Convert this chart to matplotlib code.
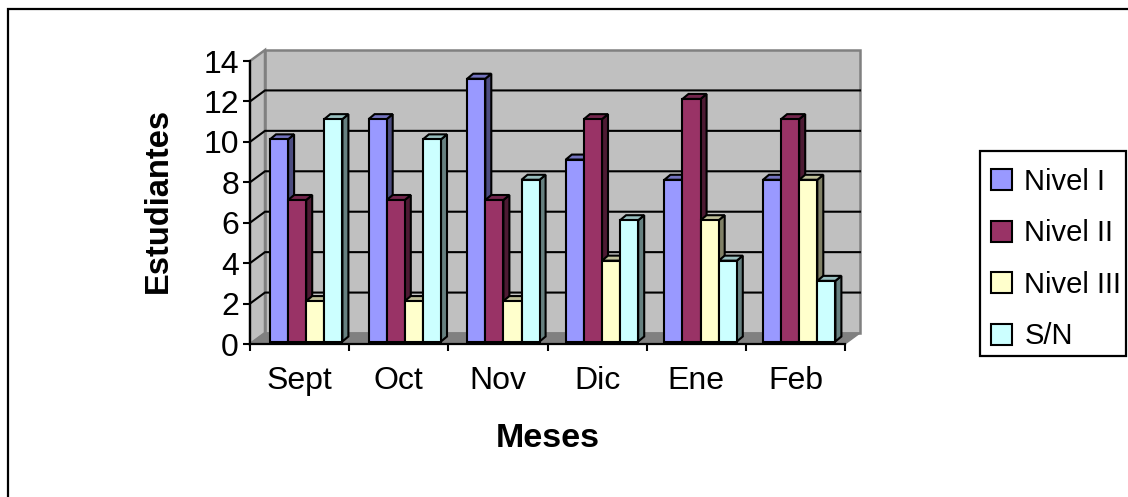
import matplotlib
matplotlib.use('Agg')
import matplotlib.pyplot as plt
from matplotlib.patches import Polygon, Rectangle

plt.rcParams['font.family'] = ['Liberation Sans', 'DejaVu Sans']

meses = ['Sept', 'Oct', 'Nov', 'Dic', 'Ene', 'Feb']
nivel_1 = [10, 11, 13, 9, 8, 8]
nivel_2 = [7, 7, 7, 11, 12, 11]
nivel_3 = [2, 2, 2, 4, 6, 8]
sin_nivel = [11, 10, 8, 6, 4, 3]
series = [nivel_1, nivel_2, nivel_3, sin_nivel]
nombres = ['Nivel I', 'Nivel II', 'Nivel III', 'S/N']
y_ticks = list(range(0, 15, 2))

front = ['#9999FF', '#993366', '#FFFFCC', '#CCFFFF']
side = ['#4C4C80', '#4D1A33', '#808066', '#668080']
top = ['#7373BF', '#73264D', '#BFBF99', '#99BFBF']

W, H = 1128, 497
fig = plt.figure(figsize=(W / 100, H / 100), dpi=100)


def px_axes(l, t, r, b):
    return fig.add_axes([l / W, 1 - b / H, (r - l) / W, (b - t) / H])


# chart area border, only top and left fall inside the image
fig.add_artist(plt.Line2D([8 / W, 8 / W, 1], [0, 1 - 9 / H, 1 - 9 / H], color='black', lw=1.6,
                          transform=fig.transFigure, solid_joinstyle='miter'))

# front plane of the fake 3d box
ax = px_axes(250, 61, 845, 344)
ax.set_xlim(0, 6)
ax.set_ylim(0, 14)
ux = 595 / 6
uy = 283 / 14
dep_x = 15 / ux
dep_y = 11 / uy


def poly(pts, **kw):
    ax.add_patch(Polygon(pts, closed=True, clip_on=False, **kw))


# walls and floor
poly([(dep_x, dep_y), (6 + dep_x, dep_y), (6 + dep_x, 14 + dep_y), (dep_x, 14 + dep_y)],
     fc='#C0C0C0', ec='#808080', lw=1.8, zorder=1)
poly([(0, 0), (dep_x, dep_y), (dep_x, 14 + dep_y), (0, 14)], fc='#C0C0C0', ec='#808080', lw=1.8, zorder=1)
poly([(0, 0), (6, 0), (6 + dep_x, dep_y), (dep_x, dep_y)], fc='#808080', ec='#808080', lw=1, zorder=1)

# gridlines on back and side wall
for v in y_ticks[1:-1]:
    ax.plot([0, dep_x, 6 + dep_x], [v, v + dep_y, v + dep_y], color='black', lw=1.5,
            clip_on=False, zorder=2, solid_joinstyle='miter')

# bars
bar_w = 18.1 / ux
bar_dx = 6 / ux
bar_dy = 5 / uy
x0 = 20 / ux
y0 = 2.5 / uy
step = 98.6 / ux
for i, mes in enumerate(meses):
    for j, vals in enumerate(series):
        left = i * step + x0 + j * bar_w
        right = left + bar_w
        v = vals[i] + y0
        z = 3 + i + j * 0.1
        style = dict(ec='black', lw=1.5, joinstyle='miter', zorder=z)
        poly([(right, y0), (right + bar_dx, y0 + bar_dy), (right + bar_dx, v + bar_dy), (right, v)],
             fc=side[j], **style)
        poly([(left, v), (right, v), (right + bar_dx, v + bar_dy), (left + bar_dx, v + bar_dy)],
             fc=top[j], **style)
        ax.bar(left, vals[i], bar_w, bottom=y0, align='edge', color=front[j], ec='black', lw=1.5,
               clip_on=False, zorder=z + 0.01)

ax.patch.set_visible(False)
for s in ['top', 'right']:
    ax.spines[s].set_visible(False)
for s in ['left', 'bottom']:
    ax.spines[s].set_linewidth(1.6)
    ax.spines[s].set_zorder(20)
ax.set_yticks(y_ticks)
ax.set_xticks(range(7))
ax.set_xticklabels([])
ax.set_xticks([i + 0.5 for i in range(6)], minor=True)
ax.set_xticklabels(meses, minor=True)
ax.tick_params(axis='x', which='major', length=5, width=1.5, direction='out')
ax.tick_params(axis='x', which='minor', length=0, labelsize=23, pad=15.5)
ax.tick_params(axis='y', length=5, width=1.5, direction='out', labelsize=23, pad=3)
ax.set_xlabel('Meses', fontsize=24.5, fontweight='bold', labelpad=20)
ax.set_ylabel('Estudiantes', fontsize=23.5, fontweight='bold', labelpad=21, y=0.509)

# legend box is drawn by hand so it can keep the tight right side
fig.add_artist(Rectangle((980 / W, 1 - 356 / H), 146 / W, 205 / H, transform=fig.transFigure,
                         fc='white', ec='black', lw=1.6))
handles = [Rectangle((0, 0), 1, 1, fc=c, ec='black', lw=1.5) for c in front]
leg = fig.legend(handles, nombres, loc='upper left', bbox_to_anchor=(991 / W, 1 - 168 / H),
                 fontsize=21, frameon=False,
                 handlelength=0.72, handleheight=0.72, handletextpad=0.42, labelspacing=0.805,
                 borderpad=0, borderaxespad=0)

fig.savefig('out.png', dpi=100)
